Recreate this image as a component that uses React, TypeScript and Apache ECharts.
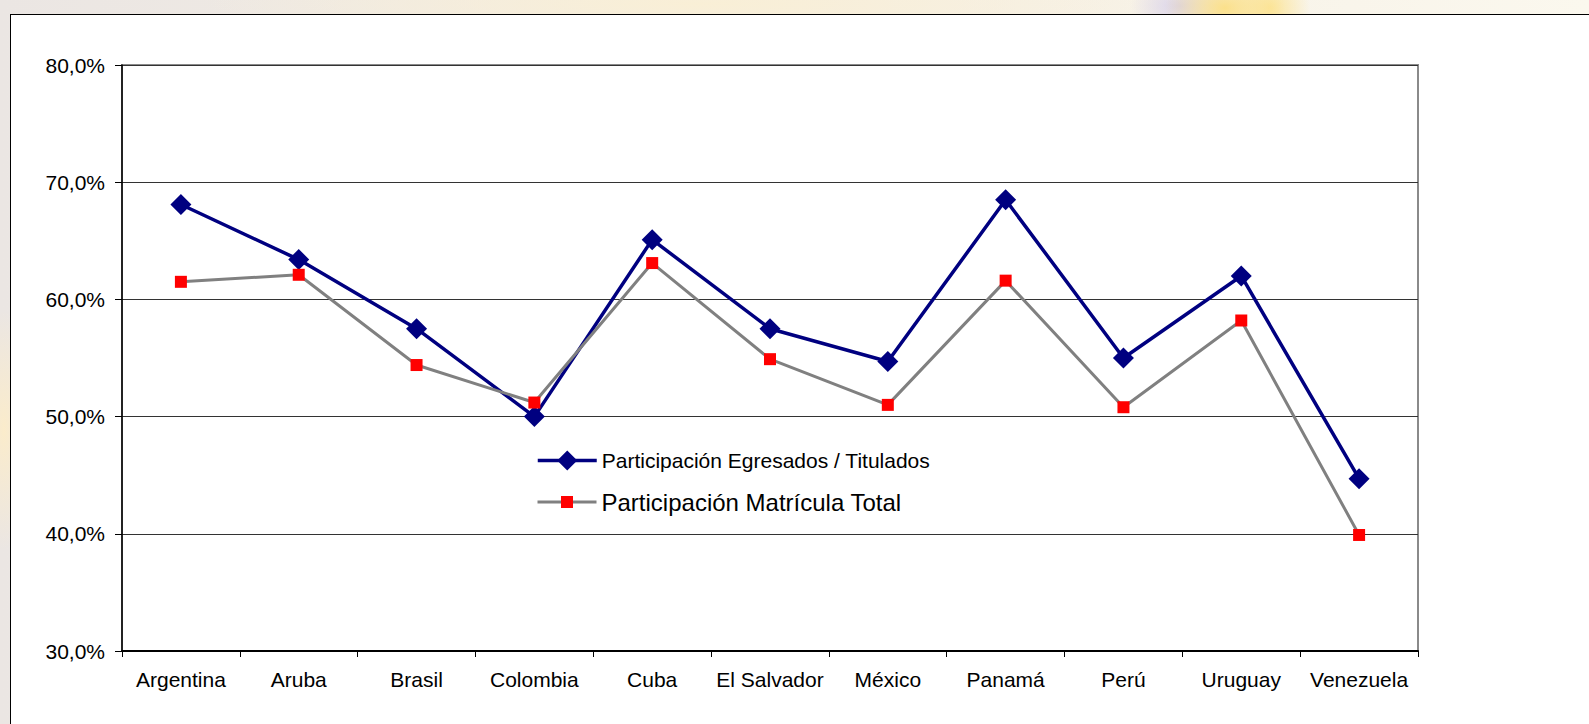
import React, { useEffect, useRef } from "react";
import * as echarts from "echarts";

const categories = ["Argentina", "Aruba", "Brasil", "Colombia", "Cuba", "El Salvador", "México", "Panamá", "Perú", "Uruguay", "Venezuela"];
const egresados = [68.1, 63.4, 57.5, 50.0, 65.1, 57.5, 54.7, 68.5, 55.0, 62.0, 44.7];
const matricula = [61.5, 62.1, 54.4, 51.2, 63.1, 54.9, 51.0, 61.6, 50.8, 58.2, 39.9];
const yTicks = [30, 40, 50, 60, 70, 80];

const serieEgresados = "Participación Egresados / Titulados";
const serieMatricula = "Participación Matrícula Total";

const FONT = "'Liberation Sans', Arial, sans-serif";

export default function App() {
  const ref = useRef<HTMLDivElement>(null);
  useEffect(() => {
    if (!ref.current) return;
    const chart = echarts.init(ref.current, null, { renderer: "svg" });
    chart.setOption({
      animation: false,
      backgroundColor: "transparent",
      grid: {
        left: 122, right: 171, top: 65, bottom: 73,
        show: true, borderColor: "#8a8a8a", borderWidth: 2, backgroundColor: "#ffffff",
      },
      legend: [
        {
          data: [serieEgresados], left: 536, top: 450, padding: 0, itemWidth: 59, itemHeight: 25, itemGap: 5,
          lineStyle: { width: 3.5 },
          textStyle: { fontFamily: FONT, fontSize: 21, color: "#000" },
        },
        {
          data: [serieMatricula], left: 536, top: 490, padding: 0, itemWidth: 59, itemHeight: 15, itemGap: 5,
          lineStyle: { width: 3 },
          textStyle: { fontFamily: FONT, fontSize: 24, color: "#000" },
        },
      ],
      xAxis: {
        type: "category",
        data: categories,
        boundaryGap: true,
        axisLine: { show: true, lineStyle: { color: "#000", width: 2 } },
        axisTick: { show: true, length: 6, lineStyle: { color: "#000", width: 1 } },
        axisLabel: { fontFamily: FONT, fontSize: 21, color: "#000", margin: 18, interval: 0 },
        splitLine: { show: false },
      },
      yAxis: {
        type: "value",
        min: yTicks[0], max: yTicks[yTicks.length - 1], interval: 10,
        axisLine: { show: true, lineStyle: { color: "#000", width: 1.5 } },
        axisTick: { show: true, length: 7, lineStyle: { color: "#000", width: 1 } },
        axisLabel: {
          fontFamily: FONT, fontSize: 21, color: "#000", margin: 17,
          formatter: (v: number) => v.toFixed(1).replace(".", ",") + "%",
        },
        splitLine: { show: true, lineStyle: { color: "#333", width: 1 } },
      },
      series: [
        {
          name: serieEgresados, type: "line", data: egresados,
          symbol: "diamond", symbolSize: 21,
          lineStyle: { color: "#000080", width: 3.5 },
          itemStyle: { color: "#000080" },
          z: 3,
        },
        {
          name: serieMatricula, type: "line", data: matricula,
          symbol: "rect", symbolSize: 12,
          lineStyle: { color: "#808080", width: 3 },
          itemStyle: { color: "#ff0000" },
          z: 4,
        },
      ],
    });
    return () => chart.dispose();
  }, []);

  return (
    <div
      style={{
        position: "absolute", left: 0, top: 0, width: 1589, height: 724, overflow: "hidden",
        background:
          "radial-gradient(ellipse 60px 40px at 1225px 8px, #fbe08a 0%, rgba(251,224,138,0) 100%)," +
          "radial-gradient(ellipse 50px 30px at 1180px 6px, #d9d2ea 0%, rgba(217,210,234,0) 100%)," +
          "radial-gradient(ellipse 40px 40px at 1270px 8px, #fce59a 0%, rgba(252,229,154,0) 100%)," +
          "radial-gradient(ellipse 30px 120px at 4px 430px, #fbeccb 0%, rgba(251,236,203,0) 100%)," +
          "radial-gradient(ellipse 500px 40px at 700px 4px, #f9efd6 0%, rgba(249,239,214,0) 100%)," +
          "linear-gradient(90deg, #ebe6e3 0%, #f4eee4 50%, #fbf8ee 100%)",
      }}
    >
      <div
        style={{
          position: "absolute", left: 10, top: 14, width: 1600, height: 740,
          background: "#ffffff", borderTop: "1px solid #000", borderLeft: "1px solid #000",
        }}
      />
      <div ref={ref} style={{ position: "absolute", left: 0, top: 0, width: 1589, height: 724 }} />
    </div>
  );
}
